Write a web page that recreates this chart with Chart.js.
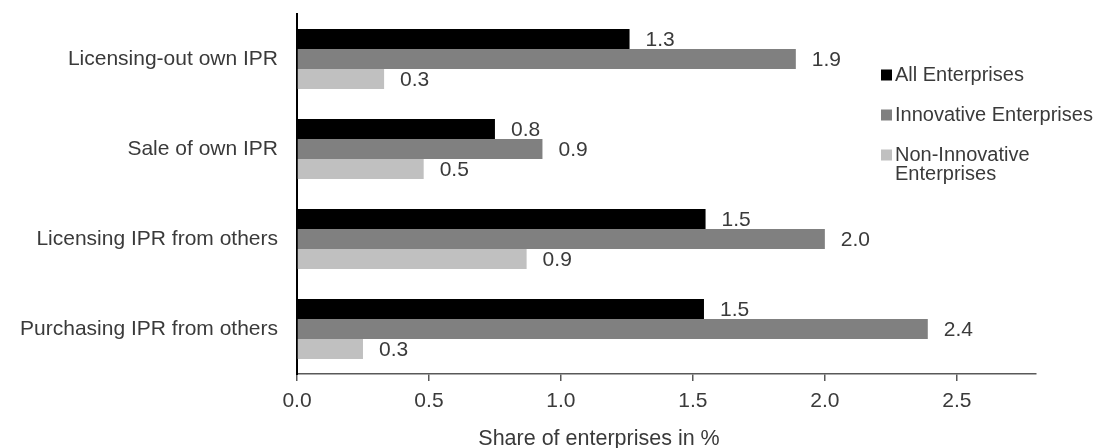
<!DOCTYPE html>
<html>
<head>
<meta charset="utf-8">
<script src="https://cdn.jsdelivr.net/npm/chart.js@4"></script>
<style>
  html, body { margin: 0; padding: 0; background: #ffffff; }
  #wrap { width: 1094px; height: 448px; }
</style>
</head>
<body>
<div id="wrap"><canvas id="c" width="1094" height="448"></canvas></div>
<script>
const categories = ["Licensing-out own IPR", "Sale of own IPR", "Licensing IPR from others", "Purchasing IPR from others"];
const seriesNames = ["All Enterprises", "Innovative Enterprises", "Non-Innovative Enterprises"];
const allEnterprises = [1.26, 0.75, 1.548, 1.542];
const innovativeEnterprises = [1.89, 0.93, 2.0, 2.39];
const nonInnovativeEnterprises = [0.33, 0.48, 0.87, 0.25];
const xTickValues = [0, 0.5, 1.0, 1.5, 2.0, 2.5];
const xAxisTitle = "Share of enterprises in %";

const FONT = "'Liberation Sans', Arial, sans-serif";
const TEXT = "#3a3a3a";
const colors = ["#000000", "#808080", "#c0c0c0"];

const valueLabels = {
  id: 'valueLabels',
  afterDatasetsDraw(chart) {
    const ctx = chart.ctx;
    ctx.save();
    ctx.font = "21px " + FONT;
    ctx.fillStyle = TEXT;
    ctx.textAlign = 'left';
    ctx.textBaseline = 'middle';
    chart.data.datasets.forEach((ds, i) => {
      const meta = chart.getDatasetMeta(i);
      meta.data.forEach((bar, j) => {
        ctx.fillText(ds.data[j].toFixed(1), bar.x + 16, bar.y + 1);
      });
    });
    ctx.restore();
  }
};

const axisTitle = {
  id: 'axisTitle',
  afterDraw(chart) {
    const ctx = chart.ctx;
    ctx.save();
    ctx.font = "21.5px " + FONT;
    ctx.fillStyle = TEXT;
    ctx.textAlign = 'center';
    ctx.textBaseline = 'alphabetic';
    ctx.fillText(xAxisTitle, 599, 445);
    ctx.restore();
  }
};

const sideLegend = {
  id: 'sideLegend',
  afterDraw(chart) {
    const ctx = chart.ctx;
    ctx.save();
    ctx.font = "20px " + FONT;
    ctx.textAlign = 'left';
    ctx.textBaseline = 'middle';
    const boxX = 881, textX = 895, startY = 75, step = 40, lineH = 19.5, maxW = 205;
    chart.data.datasets.forEach((ds, i) => {
      const cy = startY + i * step;
      ctx.fillStyle = ds.backgroundColor;
      ctx.fillRect(boxX, cy - 5.5, 11, 11);
      const words = ds.label.split(' ');
      const lines = [];
      let cur = '';
      words.forEach(w => {
        const test = cur ? cur + ' ' + w : w;
        if (ctx.measureText(test).width > maxW && cur) { lines.push(cur); cur = w; }
        else cur = test;
      });
      if (cur) lines.push(cur);
      ctx.fillStyle = TEXT;
      lines.forEach((ln, k) => ctx.fillText(ln, textX, cy + k * lineH));
    });
    ctx.restore();
  }
};

new Chart(document.getElementById('c'), {
  type: 'bar',
  data: {
    labels: categories,
    datasets: [
      { label: seriesNames[0], data: allEnterprises, backgroundColor: colors[0] },
      { label: seriesNames[1], data: innovativeEnterprises, backgroundColor: colors[1] },
      { label: seriesNames[2], data: nonInnovativeEnterprises, backgroundColor: colors[2] }
    ]
  },
  options: {
    indexAxis: 'y',
    responsive: false,
    animation: false,
    devicePixelRatio: 1,
    layout: { padding: { left: 0, top: 14, right: 58, bottom: 0 } },
    datasets: { bar: { barPercentage: 1.0, categoryPercentage: 0.667, borderWidth: 0 } },
    plugins: {
      legend: { display: false },
      tooltip: { enabled: false }
    },
    scales: {
      x: {
        type: 'linear',
        min: 0,
        max: 2.8,
        afterBuildTicks(scale) {
          scale.ticks = xTickValues.map(v => ({ value: v }));
        },
        afterFit(scale) { scale.height = 74; },
        ticks: {
          font: { family: FONT, size: 21 },
          color: TEXT,
          padding: 8,
          callback: v => Number(v).toFixed(1),
          maxRotation: 0
        },
        grid: { drawOnChartArea: false, drawTicks: true, tickLength: 7, color: '#595959', lineWidth: 1.5 },
        border: { display: true, color: '#595959', width: 1.5 },
        title: { display: false, text: xAxisTitle }
      },
      y: {
        afterFit(scale) {
          scale.width = 297;
          scale.paddingTop = 0;
          scale.paddingBottom = 0;
        },
        ticks: {
          font: { family: FONT, size: 21 },
          color: TEXT,
          padding: 19
        },
        grid: { display: false, drawTicks: false },
        border: { display: true, color: '#000000', width: 2 }
      }
    }
  },
  plugins: [valueLabels, axisTitle, sideLegend]
});
</script>
</body>
</html>
